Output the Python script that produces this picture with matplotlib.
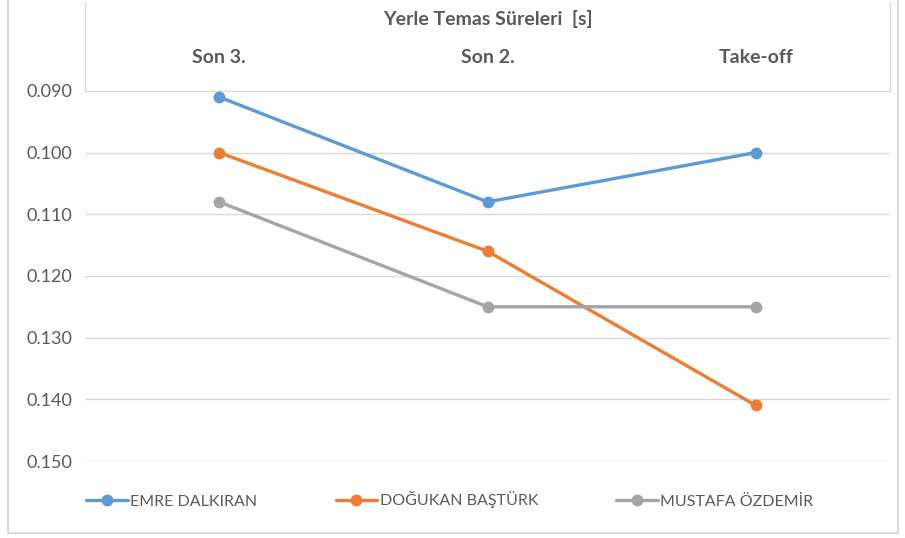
import matplotlib
matplotlib.use("Agg")
import matplotlib.pyplot as plt
from matplotlib.patches import Rectangle

plt.rcParams['font.family'] = ['Lato', 'DejaVu Sans']

categories = ['Son 3.', 'Son 2.', 'Take-off']
emre = [0.091, 0.108, 0.100]
dogukan = [0.100, 0.116, 0.141]
mustafa = [0.108, 0.125, 0.125]
series_names = ['EMRE DALKIRAN', 'DOĞUKAN BAŞTÜRK', 'MUSTAFA ÖZDEMİR']
yticks = [0.090, 0.100, 0.110, 0.120, 0.130, 0.140, 0.150]

colors = ['#5B9BD5', '#ED7D31', '#A5A5A5']
txt = '#595959'
grid_c = '#D9D9D9'

fig = plt.figure(figsize=(9.05, 5.38), dpi=100)
# outer chart border
fig.patches.append(Rectangle((8 / 905, 5 / 538), 890 / 905, 540 / 538, transform=fig.transFigure,
                             fill=False, edgecolor='#D9D9D9', linewidth=1.5))

ax = fig.add_axes([85 / 905, 1 - 461 / 538, 805 / 905, 459 / 538])
x = list(range(len(categories)))
top = 0.0756
ax.set_xlim(-0.5, len(categories) - 0.5)
ax.set_ylim(0.150, top)

for yv in yticks:
    ax.axhline(yv, color=grid_c, linewidth=1, zorder=0)
# frame around the category band above the plot
ax.plot([-0.5, -0.5], [top, yticks[0]], color=grid_c, linewidth=1, clip_on=False)
ax.plot([2.5, 2.5], [top, yticks[0]], color=grid_c, linewidth=1, clip_on=False)

for vals, c, name in zip([emre, dogukan, mustafa], colors, series_names):
    ax.plot(x, vals, color=c, linewidth=2.4, marker='o', markersize=7.5, label=name,
            solid_capstyle='round', clip_on=False)

for s in ax.spines.values():
    s.set_visible(False)
ax.set_xticks([])
ax.set_yticks(yticks)
ax.set_yticklabels(['%.3f' % v for v in yticks], fontsize=13, color=txt)
ax.tick_params(axis='y', length=0, pad=9)

for xi, cat in zip(x, categories):
    ax.text(xi, 0.0846, cat, ha='center', va='center', fontsize=14, fontweight='bold', color=txt)
ax.text(1, 0.0783, 'Yerle Temas Süreleri  [s]', ha='center', va='center', fontsize=14,
        fontweight='bold', color=txt)

leg = fig.legend(loc='center left', bbox_to_anchor=(80 / 905, 1 - 500 / 538), ncol=3,
                 frameon=False, fontsize=11.5, handlelength=2.6, handletextpad=0.15,
                 columnspacing=4.9, borderaxespad=0)
for t in leg.get_texts():
    t.set_color(txt)

fig.savefig('out.png', dpi=100)
